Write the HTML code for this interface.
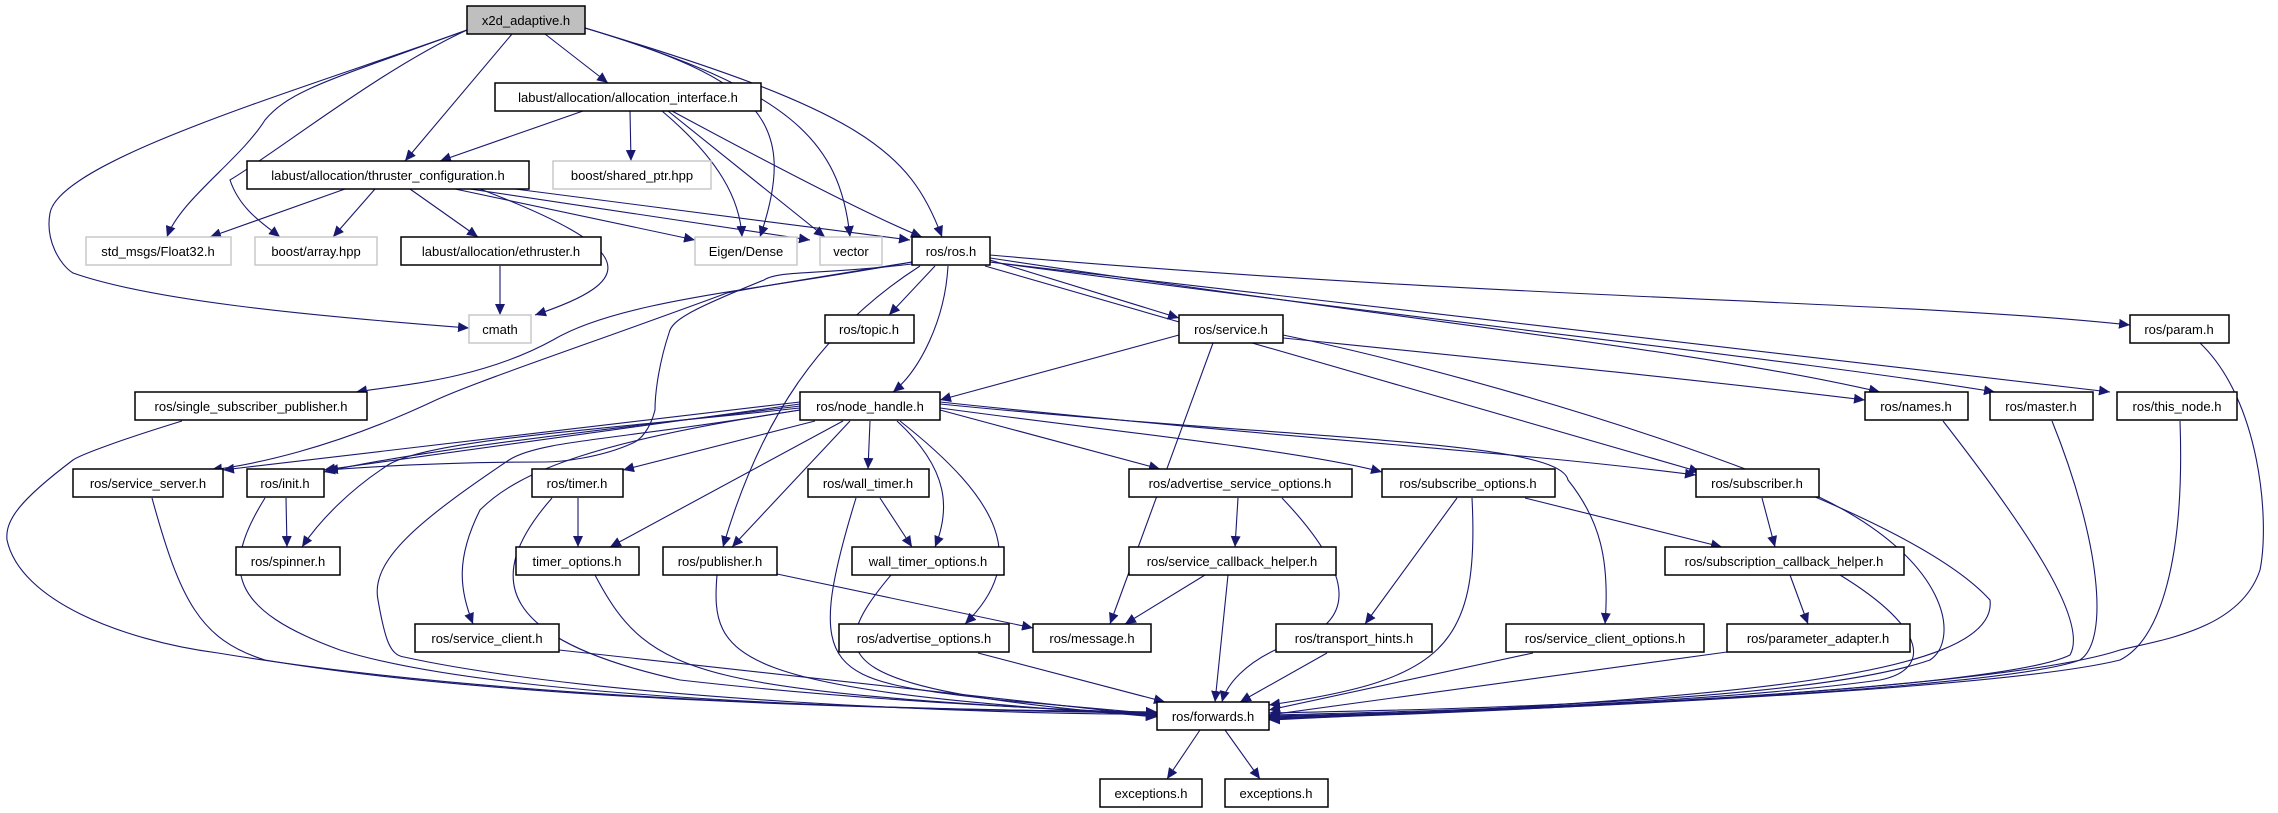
<!DOCTYPE html>
<html><head><meta charset="utf-8"><style>
html,body{margin:0;padding:0;background:#fff}
svg{display:block}
text{font-family:"Liberation Sans",sans-serif;font-size:13px;fill:#000}
.n rect{fill:#fff;stroke:#000;stroke-width:1.5}
.g rect{fill:#fff;stroke:#c8c8c8;stroke-width:1.5}
.r rect{fill:#bfbfbf;stroke:#000;stroke-width:1.5}
.e path{fill:none;stroke:#191970;stroke-width:1.1}
</style></head><body>
<svg width="2278" height="813" viewBox="0 0 2278 813" xmlns="http://www.w3.org/2000/svg">
<defs><marker id="a" markerUnits="userSpaceOnUse" markerWidth="12" markerHeight="10" refX="11" refY="5" orient="auto"><path d="M0,0 L11,5 L0,10 z" fill="#191970"/></marker></defs>
<g class="e">
<path d="M545,34 L608,83" marker-end="url(#a)"/>
<path d="M512,34 L405,161" marker-end="url(#a)"/>
<path d="M467,30 C330,80 290,90 265,120 C240,160 180,200 167,237" marker-end="url(#a)"/>
<path d="M467,30 C380,70 280,150 230,180 C240,210 265,225 280,237" marker-end="url(#a)"/>
<path d="M467,30 C300,90 60,160 50,213 C45,240 60,265 73,273 C150,300 300,315 469,328" marker-end="url(#a)"/>
<path d="M585,28 C760,80 800,120 760,237" marker-end="url(#a)"/>
<path d="M585,28 C790,90 840,140 850,237" marker-end="url(#a)"/>
<path d="M585,28 C860,110 910,150 942,237" marker-end="url(#a)"/>
<path d="M583,111 L440,161" marker-end="url(#a)"/>
<path d="M630,111 L631,161" marker-end="url(#a)"/>
<path d="M662,111 C720,160 740,200 742,237" marker-end="url(#a)"/>
<path d="M668,111 L825,237" marker-end="url(#a)"/>
<path d="M672,111 C800,180 880,220 922,237" marker-end="url(#a)"/>
<path d="M345,189 L210,237" marker-end="url(#a)"/>
<path d="M375,189 L333,237" marker-end="url(#a)"/>
<path d="M410,189 L478,237" marker-end="url(#a)"/>
<path d="M480,189 C640,250 640,280 535,315" marker-end="url(#a)"/>
<path d="M455,189 L695,240" marker-end="url(#a)"/>
<path d="M470,189 L810,240" marker-end="url(#a)"/>
<path d="M515,189 L910,240" marker-end="url(#a)"/>
<path d="M500,266 L500,315" marker-end="url(#a)"/>
<path d="M935,266 L889,315" marker-end="url(#a)"/>
<path d="M948,266 C945,320 920,370 893,392" marker-end="url(#a)"/>
<path d="M990,260 L1179,318" marker-end="url(#a)"/>
<path d="M990,255 C1500,300 1900,300 2130,325" marker-end="url(#a)"/>
<path d="M990,258 C1400,320 1700,350 1880,392" marker-end="url(#a)"/>
<path d="M990,262 C1500,330 1800,360 1995,392" marker-end="url(#a)"/>
<path d="M990,262 C1600,330 1950,370 2110,392" marker-end="url(#a)"/>
<path d="M985,266 L1700,472" marker-end="url(#a)"/>
<path d="M912,262 C760,290 620,300 553,340 C480,380 400,385 356,392" marker-end="url(#a)"/>
<path d="M912,262 C800,280 740,290 727,293 C600,340 480,380 436,400 C330,450 250,465 211,470" marker-end="url(#a)"/>
<path d="M912,264 C820,275 780,270 764,280 C690,310 672,320 669,333 C660,360 655,390 655,410 C650,430 640,440 633,443 C600,458 560,462 545,462 C450,462 380,466 327,470" marker-end="url(#a)"/>
<path d="M920,266 C820,330 760,420 723,547" marker-end="url(#a)"/>
<path d="M1179,335 L940,400" marker-end="url(#a)"/>
<path d="M1213,343 L1110,624" marker-end="url(#a)"/>
<path d="M1283,338 C1500,360 1700,380 1865,400" marker-end="url(#a)"/>
<path d="M1283,335 C1500,380 1900,500 1990,600 C2000,680 1700,700 1269,720" marker-end="url(#a)"/>
<path d="M182,421 C120,440 80,455 73,460 C20,500 5,520 7,540 C20,600 120,640 218,653 C500,700 900,710 1157,712" marker-end="url(#a)"/>
<path d="M800,402 L223,470" marker-end="url(#a)"/>
<path d="M800,404 L324,470" marker-end="url(#a)"/>
<path d="M800,406 C600,430 420,450 324,472" marker-end="url(#a)"/>
<path d="M800,408 C600,430 420,440 385,467 C350,490 320,520 302,547" marker-end="url(#a)"/>
<path d="M800,410 C620,440 540,440 509,460 C420,520 370,560 378,600 C385,640 390,655 404,657 C600,700 1000,715 1157,714" marker-end="url(#a)"/>
<path d="M800,410 C600,440 520,470 480,510 C455,560 460,590 473,624" marker-end="url(#a)"/>
<path d="M815,421 L623,470" marker-end="url(#a)"/>
<path d="M843,421 L610,547" marker-end="url(#a)"/>
<path d="M850,421 L732,547" marker-end="url(#a)"/>
<path d="M870,421 L868,469" marker-end="url(#a)"/>
<path d="M897,421 C950,470 950,510 935,547" marker-end="url(#a)"/>
<path d="M900,421 C1000,500 1030,560 965,624" marker-end="url(#a)"/>
<path d="M940,410 L1160,469" marker-end="url(#a)"/>
<path d="M940,408 C1100,430 1300,450 1382,472" marker-end="url(#a)"/>
<path d="M940,404 C1300,440 1560,440 1568,480 C1600,520 1610,560 1605,624" marker-end="url(#a)"/>
<path d="M940,402 C1300,440 1500,450 1696,475" marker-end="url(#a)"/>
<path d="M152,498 C180,600 200,640 265,660 C500,700 900,710 1157,712" marker-end="url(#a)"/>
<path d="M286,498 L287,547" marker-end="url(#a)"/>
<path d="M265,498 C220,570 230,610 340,650 C500,700 900,710 1157,713" marker-end="url(#a)"/>
<path d="M578,498 L578,547" marker-end="url(#a)"/>
<path d="M552,498 C480,580 500,640 680,680 C900,705 1100,710 1157,714" marker-end="url(#a)"/>
<path d="M880,498 L912,547" marker-end="url(#a)"/>
<path d="M856,498 C800,680 830,680 1000,700 L1157,714" marker-end="url(#a)"/>
<path d="M595,575 C650,680 700,690 1157,715" marker-end="url(#a)"/>
<path d="M777,574 L1033,628" marker-end="url(#a)"/>
<path d="M717,575 C710,660 730,690 1157,716" marker-end="url(#a)"/>
<path d="M891,575 C820,660 830,690 1157,717" marker-end="url(#a)"/>
<path d="M559,650 L1157,716" marker-end="url(#a)"/>
<path d="M978,653 L1165,702" marker-end="url(#a)"/>
<path d="M1238,498 L1235,547" marker-end="url(#a)"/>
<path d="M1282,498 C1360,580 1350,620 1300,640 C1240,660 1225,690 1222,702" marker-end="url(#a)"/>
<path d="M1205,575 L1125,624" marker-end="url(#a)"/>
<path d="M1228,575 L1215,702" marker-end="url(#a)"/>
<path d="M1457,498 L1365,624" marker-end="url(#a)"/>
<path d="M1472,498 C1480,650 1440,680 1269,705" marker-end="url(#a)"/>
<path d="M1525,498 L1722,547" marker-end="url(#a)"/>
<path d="M1327,653 L1240,702" marker-end="url(#a)"/>
<path d="M1533,653 L1269,710" marker-end="url(#a)"/>
<path d="M1762,498 L1775,547" marker-end="url(#a)"/>
<path d="M1819,497 C1950,560 1960,640 1930,660 C1800,705 1400,710 1269,713" marker-end="url(#a)"/>
<path d="M1790,575 L1808,624" marker-end="url(#a)"/>
<path d="M1840,575 C1930,630 1930,670 1880,680 C1700,705 1400,712 1269,715" marker-end="url(#a)"/>
<path d="M1727,652 L1269,715" marker-end="url(#a)"/>
<path d="M1943,421 C2020,520 2090,620 2070,655 C2000,690 1500,712 1269,716" marker-end="url(#a)"/>
<path d="M2052,421 C2100,540 2110,640 2080,660 C2000,690 1500,712 1269,717" marker-end="url(#a)"/>
<path d="M2180,421 C2185,560 2160,640 2120,660 C2000,690 1500,712 1269,718" marker-end="url(#a)"/>
<path d="M2200,343 C2260,400 2270,520 2260,570 C2240,630 2160,640 2120,650 C2000,690 1500,712 1269,719" marker-end="url(#a)"/>
<path d="M1200,730 L1167,779" marker-end="url(#a)"/>
<path d="M1225,730 L1260,779" marker-end="url(#a)"/>
</g>
<g class="r"><rect x="467" y="6" width="118" height="28"/></g>
<g class="n">
<rect x="495" y="83" width="266" height="28"/>
<rect x="247" y="161" width="282" height="28"/>
<rect x="401" y="237" width="200" height="28"/>
<rect x="912" y="237" width="78" height="28"/>
<rect x="825" y="315" width="89" height="28"/>
<rect x="1179" y="315" width="104" height="28"/>
<rect x="2130" y="315" width="99" height="28"/>
<rect x="135" y="392" width="232" height="28"/>
<rect x="800" y="392" width="140" height="28"/>
<rect x="1865" y="392" width="103" height="28"/>
<rect x="1990" y="392" width="103" height="28"/>
<rect x="2117" y="392" width="120" height="28"/>
<rect x="73" y="469" width="150" height="28"/>
<rect x="247" y="469" width="77" height="28"/>
<rect x="532" y="469" width="91" height="28"/>
<rect x="808" y="469" width="121" height="28"/>
<rect x="1129" y="469" width="223" height="28"/>
<rect x="1382" y="469" width="173" height="28"/>
<rect x="1696" y="469" width="123" height="28"/>
<rect x="236" y="547" width="104" height="28"/>
<rect x="516" y="547" width="123" height="28"/>
<rect x="663" y="547" width="114" height="28"/>
<rect x="852" y="547" width="152" height="28"/>
<rect x="1129" y="547" width="207" height="28"/>
<rect x="1665" y="547" width="239" height="28"/>
<rect x="415" y="624" width="144" height="28"/>
<rect x="839" y="624" width="170" height="28"/>
<rect x="1033" y="624" width="118" height="28"/>
<rect x="1276" y="624" width="156" height="28"/>
<rect x="1506" y="624" width="198" height="28"/>
<rect x="1727" y="624" width="183" height="28"/>
<rect x="1157" y="702" width="112" height="28"/>
<rect x="1100" y="779" width="102" height="28"/>
<rect x="1225" y="779" width="103" height="28"/>
</g>
<g class="g">
<rect x="553" y="161" width="158" height="28"/>
<rect x="86" y="237" width="145" height="28"/>
<rect x="255" y="237" width="122" height="28"/>
<rect x="695" y="237" width="102" height="28"/>
<rect x="820" y="237" width="62" height="28"/>
<rect x="469" y="315" width="62" height="28"/>
</g>
<g text-anchor="middle">
<text x="526" y="25">x2d_adaptive.h</text>
<text x="628" y="102">labust/allocation/allocation_interface.h</text>
<text x="388" y="180">labust/allocation/thruster_configuration.h</text>
<text x="632" y="180">boost/shared_ptr.hpp</text>
<text x="158" y="256">std_msgs/Float32.h</text>
<text x="316" y="256">boost/array.hpp</text>
<text x="501" y="256">labust/allocation/ethruster.h</text>
<text x="746" y="256">Eigen/Dense</text>
<text x="851" y="256">vector</text>
<text x="951" y="256">ros/ros.h</text>
<text x="500" y="334">cmath</text>
<text x="869" y="334">ros/topic.h</text>
<text x="1231" y="334">ros/service.h</text>
<text x="2179" y="334">ros/param.h</text>
<text x="251" y="411">ros/single_subscriber_publisher.h</text>
<text x="870" y="411">ros/node_handle.h</text>
<text x="1916" y="411">ros/names.h</text>
<text x="2041" y="411">ros/master.h</text>
<text x="2177" y="411">ros/this_node.h</text>
<text x="148" y="488">ros/service_server.h</text>
<text x="285" y="488">ros/init.h</text>
<text x="577" y="488">ros/timer.h</text>
<text x="868" y="488">ros/wall_timer.h</text>
<text x="1240" y="488">ros/advertise_service_options.h</text>
<text x="1468" y="488">ros/subscribe_options.h</text>
<text x="1757" y="488">ros/subscriber.h</text>
<text x="288" y="566">ros/spinner.h</text>
<text x="577" y="566">timer_options.h</text>
<text x="720" y="566">ros/publisher.h</text>
<text x="928" y="566">wall_timer_options.h</text>
<text x="1232" y="566">ros/service_callback_helper.h</text>
<text x="1784" y="566">ros/subscription_callback_helper.h</text>
<text x="487" y="643">ros/service_client.h</text>
<text x="924" y="643">ros/advertise_options.h</text>
<text x="1092" y="643">ros/message.h</text>
<text x="1354" y="643">ros/transport_hints.h</text>
<text x="1605" y="643">ros/service_client_options.h</text>
<text x="1818" y="643">ros/parameter_adapter.h</text>
<text x="1213" y="721">ros/forwards.h</text>
<text x="1151" y="798">exceptions.h</text>
<text x="1276" y="798">exceptions.h</text>
</g>
</svg>
</body></html>
